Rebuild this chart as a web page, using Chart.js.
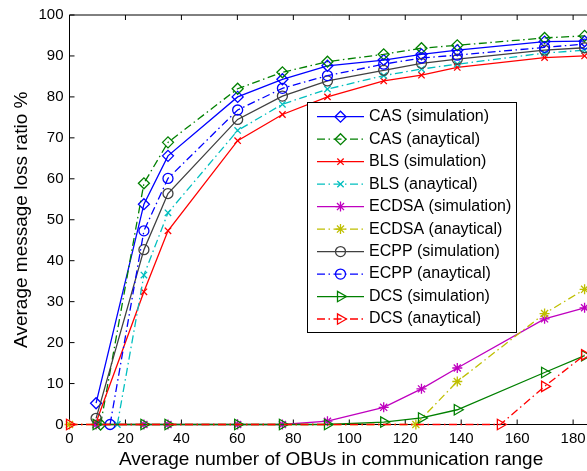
<!DOCTYPE html>
<html>
<head>
<meta charset="utf-8">
<script src="https://cdn.jsdelivr.net/npm/chart.js@4.4.0/dist/chart.umd.min.js"></script>
<style>
html, body { margin: 0; padding: 0; background: #fff; overflow: hidden; }
</style>
</head>
<body>
<canvas id="myChart" width="600" height="471"></canvas>
<script>
// average number of OBUs (x) shared by most curves
var obus = [9.5, 26.6, 35.2, 60.1, 76.1, 92.2, 112.3, 125.8, 138.6, 169.8, 184.1];

var casSim = [5.2, 53.8, 65.6, 80.0, 84.3, 87.6, 89.0, 90.4, 91.4, 93.5, 93.6];
var casAnX = [11.1].concat(obus.slice(1));
var casAn = [0, 58.9, 68.9, 82.0, 86.0, 88.6, 90.4, 91.9, 92.6, 94.4, 94.9];

var blsSim = [0.5, 32.4, 47.3, 69.3, 75.7, 80.0, 83.9, 85.3, 87.2, 89.6, 90.0];
var blsAnX = [17.1].concat(obus.slice(1));
var blsAn = [0, 36.5, 51.7, 71.8, 78.2, 81.9, 85.2, 86.8, 88.0, 90.7, 91.4];

var ecdsaSim = [0, 0, 0, 0, 0, 0.8, 4.2, 8.7, 13.8, 25.8, 28.5];
var ecdsaAnX = [0, 123.8, 138.6, 169.8, 184.1];
var ecdsaAn = [0, 0, 10.5, 27.1, 33.0];

var ecppSim = [1.5, 42.7, 56.4, 74.5, 80.2, 83.9, 86.5, 88.2, 89.2, 91.4, 92.0];
var ecppAnX = [14.5].concat(obus.slice(1));
var ecppAn = [0, 47.3, 60.1, 76.8, 82.1, 85.2, 88.0, 89.5, 90.2, 92.1, 92.9];

var dcsSim = [0, 0, 0, 0, 0, 0, 0.6, 1.6, 3.6, 12.7, 16.8];
var dcsAnX = [0, 154, 169.8, 184.1];
var dcsAn = [0, 0, 9.3, 17.0];

var xTicks = [0, 20, 40, 60, 80, 100, 120, 140, 160, 180];
var yTicks = [0, 10, 20, 30, 40, 50, 60, 70, 80, 90, 100];

var font = '"Liberation Sans", Arial, Helvetica, sans-serif';
var dashDot = [8, 3.5, 1.5, 3.5];

function pts(xs, ys) {
    return xs.map(function (x, i) { return { x: x, y: ys[i] }; });
}

function series(label, xs, ys, color, dash, style, radius, rot) {
    return {
        label: label,
        data: pts(xs, ys),
        borderColor: color,
        borderWidth: 1.3,
        borderDash: dash,
        pointStyle: style,
        pointRadius: radius,
        pointRotation: rot || 0,
        pointBorderColor: color,
        pointBackgroundColor: 'rgba(0,0,0,0)',
        pointBorderWidth: 1.3,
        fill: false,
        tension: 0,
        clip: false
    };
}

var datasets = [
    series('CAS (simulation)', obus, casSim, '#0000ff', [], 'rectRot', 5.5),
    series('CAS (anaytical)', casAnX, casAn, '#008000', dashDot, 'rectRot', 5.5),
    series('BLS (simulation)', obus, blsSim, '#ff0000', [], 'crossRot', 4.5),
    series('BLS (anaytical)', blsAnX, blsAn, '#00bfbf', dashDot, 'crossRot', 4.5),
    series('ECDSA (simulation)', obus, ecdsaSim, '#bf00bf', [], 'star', 5),
    series('ECDSA (anaytical)', ecdsaAnX, ecdsaAn, '#bfbf00', dashDot, 'star', 5),
    series('ECPP (simulation)', obus, ecppSim, '#404040', [], 'circle', 5),
    series('ECPP (anaytical)', ecppAnX, ecppAn, '#0000ff', dashDot, 'circle', 5),
    series('DCS (simulation)', obus, dcsSim, '#008000', [], 'triangle', 6, 90),
    series('DCS (anaytical)', dcsAnX, dcsAn, '#ff0000', dashDot, 'triangle', 6, 90)
];
// later curves on top, like the original plot
datasets.forEach(function (d, i) { d.order = -i; });

// box with inward tick marks
var frame = {
    id: 'frame',
    beforeDatasetsDraw: function (chart) {
        var ctx = chart.ctx, a = chart.chartArea, sx = chart.scales.x, sy = chart.scales.y;
        ctx.save();
        ctx.strokeStyle = '#000';
        ctx.lineWidth = 1;
        ctx.beginPath();
        ctx.rect(a.left, a.top, a.right - a.left, a.bottom - a.top);
        xTicks.forEach(function (v) {
            var px = sx.getPixelForValue(v);
            ctx.moveTo(px, a.bottom); ctx.lineTo(px, a.bottom - 5);
            ctx.moveTo(px, a.top); ctx.lineTo(px, a.top + 5);
        });
        yTicks.forEach(function (v) {
            var py = sy.getPixelForValue(v);
            ctx.moveTo(a.left, py); ctx.lineTo(a.left + 5, py);
            ctx.moveTo(a.right, py); ctx.lineTo(a.right - 5, py);
        });
        ctx.stroke();
        ctx.restore();
    }
};

// legend box drawn over the curves
var legendBox = {
    id: 'legendBox',
    afterDatasetsDraw: function (chart) {
        var ctx = chart.ctx;
        var x0 = 307, y0 = 102, w = 209, h = 230;
        ctx.save();
        ctx.fillStyle = '#fff';
        ctx.fillRect(x0, y0, w, h);
        ctx.strokeStyle = '#000';
        ctx.lineWidth = 1;
        ctx.strokeRect(x0 + 0.5, y0 + 0.5, w, h);
        chart.data.datasets.forEach(function (ds, i) {
            var cy = y0 + 14.7 + i * 22.48;
            ctx.strokeStyle = ds.borderColor;
            ctx.lineWidth = ds.borderWidth;
            ctx.setLineDash(ds.borderDash);
            ctx.beginPath();
            ctx.moveTo(x0 + 10, cy);
            ctx.lineTo(x0 + 57, cy);
            ctx.stroke();
            ctx.setLineDash([]);
            ctx.fillStyle = 'rgba(0,0,0,0)';
            Chart.helpers.drawPoint(ctx, {
                pointStyle: ds.pointStyle,
                radius: ds.pointRadius,
                rotation: ds.pointRotation,
                borderWidth: ds.pointBorderWidth
            }, x0 + 33.5, cy);
            ctx.fillStyle = '#000';
            ctx.font = '16px ' + font;
            ctx.textBaseline = 'middle';
            ctx.fillText(ds.label, x0 + 62, cy);
        });
        ctx.restore();
    }
};

new Chart('myChart', {
    type: 'line',
    data: { datasets: datasets },
    plugins: [frame, legendBox],
    options: {
        responsive: false,
        animation: false,
        devicePixelRatio: 1,
        layout: { padding: { left: 0, right: 6.9, top: 13.5, bottom: 0 } },
        plugins: { legend: { display: false }, tooltip: { enabled: false } },
        scales: {
            x: {
                type: 'linear',
                min: 0,
                max: 187,
                afterFit: function (s) { s.height = 46.5; },
                afterBuildTicks: function (s) { s.ticks = xTicks.map(function (v) { return { value: v }; }); },
                ticks: { color: '#000', font: { size: 15, family: font }, padding: 5, maxRotation: 0, autoSkip: false },
                grid: { display: false, drawTicks: false },
                border: { display: false },
                title: { display: true, text: 'Average number of OBUs in communication range', color: '#000', font: { size: 19, family: font }, padding: { top: 0, bottom: 0 } }
            },
            y: {
                min: 0,
                max: 100,
                afterFit: function (s) { s.width = 69.5; },
                afterBuildTicks: function (s) { s.ticks = yTicks.map(function (v) { return { value: v }; }); },
                ticks: { color: '#000', font: { size: 15, family: font }, padding: 6, autoSkip: false },
                grid: { display: false, drawTicks: false },
                border: { display: false },
                title: { display: true, text: 'Average message loss ratio %', color: '#000', font: { size: 19, family: font }, padding: { top: 10, bottom: 0 } }
            }
        }
    }
});
</script>
</body>
</html>
